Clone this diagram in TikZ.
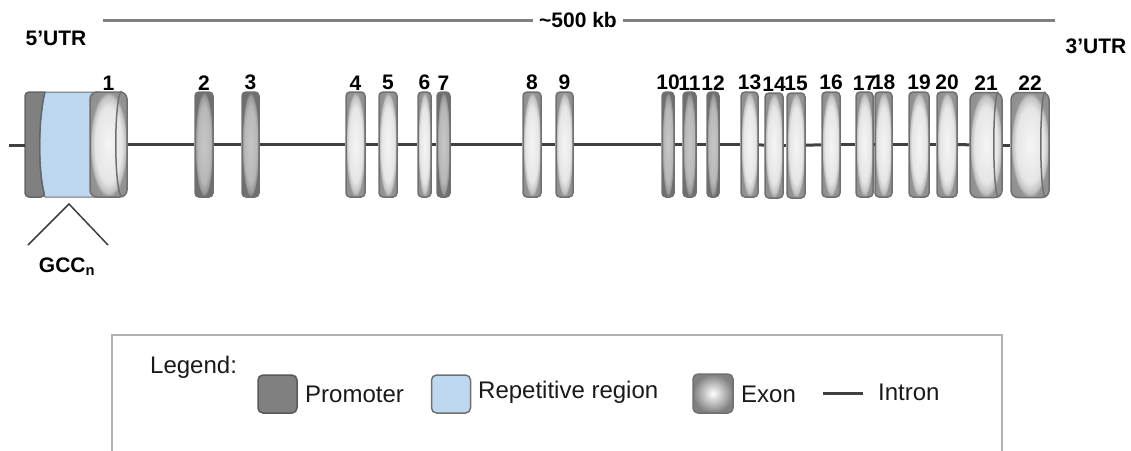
\documentclass[tikz,border=0pt]{standalone}
\usepackage{fontspec}
\setmainfont{Liberation Sans}
\usetikzlibrary{positioning}
\definecolor{repblue}{RGB}{189,215,238}
\definecolor{promgray}{RGB}{128,128,128}
\definecolor{edgegray}{RGB}{112,112,112}
\definecolor{introngray}{RGB}{64,64,64}
\pgfdeclareradialshading{exonlight}{\pgfpoint{0bp}{0bp}}{color(0bp)=(black!4); color(18bp)=(black!10); color(23bp)=(black!24); color(25bp)=(black!42); color(50bp)=(black!50)}
\pgfdeclareradialshading{exondark}{\pgfpoint{0bp}{0bp}}{color(0bp)=(black!22); color(18bp)=(black!28); color(23bp)=(black!40); color(25bp)=(black!56); color(50bp)=(black!60)}
\tikzset{
	exon/.style={rectangle, draw=edgegray, line width=1.5pt, rounded corners=4pt, minimum height=105pt, inner sep=0pt, shading=#1},
	exon/.default=exonlight,
	exonbig/.style={exon, rounded corners=7pt},
	face/.style={draw=edgegray, line width=1.5pt},
	num/.style={font=\fontsize{21}{25}\selectfont\bfseries, inner sep=0pt},
	lbl/.style={font=\fontsize{24}{29}\selectfont, inner sep=0pt, anchor=base west, text=black!90},
	intron/.style={draw=introngray, line width=3pt},
	ruler/.style={draw=black!50, line width=3pt},
	swatch/.style={rectangle, draw=edgegray, line width=1.5pt, rounded corners=5pt, minimum width=39pt, minimum height=38pt}
}

\begin{document}
\begin{tikzpicture}[x=1pt, y=-1pt]
\useasboundingbox (0,0) rectangle (1131,450);

% size of the gene
\coordinate (scaleL) at (103,20);
\coordinate (scaleR) at (1055,20);
\node[num, inner sep=6pt] (kb) at (578,20) {\textasciitilde500 kb};
\draw[ruler] (scaleL) -- (kb) -- (scaleR);

\node[num] (utr5) at (56,38) {5’UTR};
\node[num] (utr3) at (1096,46) {3’UTR};

% promoter and repeat in front of exon 1
\draw[draw=edgegray, fill=repblue, line width=1pt]
	(45,92) .. controls (38,120) and (38,170) .. (45,197) -- (100,197) -- (100,92) -- cycle;
\draw[draw=black!60, fill=promgray, line width=1.5pt, rounded corners=4pt]
	(45,92) -- (25,92) -- (25,197) -- (45,197) .. controls (38,170) and (38,120) .. (45,92);
\coordinate (intronL) at (9,145);
\coordinate (promW) at (25,145);

% exons
\node[exonbig, minimum width=37pt] (e1) at (108.5,144.5) {};
\node[exonbig, minimum width=32pt] (e21) at (986,145) {};
\node[exonbig, minimum width=38pt] (e22) at (1030,145) {};
\foreach \n/\r in {1/6,21/4.5,22/4.5}
	\draw[face] (e\n.north east) ++(-\r,0) arc[start angle=270, end angle=90, x radius=\r, y radius=52.5];
\foreach \n/\x/\y/\w/\k in {2/204/144.5/18/exondark, 3/250.5/144.5/17/exondark,
	4/355.5/144.5/19/exonlight, 5/388/144.5/18/exonlight, 6/424.5/144.5/13/exonlight,
	7/443.5/144.5/13/exondark, 8/532/144.5/18/exonlight, 9/564.5/144.5/17/exonlight,
	10/668/144.5/12/exondark, 11/689.5/144.5/13/exondark, 12/713/144.5/12/exondark,
	13/749.5/144.5/17/exonlight, 14/774/145.5/18/exonlight, 15/796/145.5/18/exonlight,
	16/831/144.5/18/exonlight, 17/864.5/144.5/17/exonlight, 18/883.5/144.5/17/exonlight,
	19/919/144.5/20/exonlight, 20/947/144.5/20/exonlight}
	\node[exon=\k, minimum width=\w pt] (e\n) at (\x,\y) {};
\foreach \n in {1,...,22}
	\node[num, above=1pt of e\n] (n\n) {\n};

% introns
\draw[intron] (intronL) -- (promW);
\foreach \a [count=\b from 2] in {1,...,21}
	\draw[intron] (e\a) -- (e\b);

% repeat expansion
\coordinate (gccL) at (28,245);
\coordinate (gccTop) at (69,204);
\coordinate (gccR) at (108,245);
\draw[draw=introngray, line width=1.5pt] (gccL) -- (gccTop) -- (gccR);
\node[num] (gcc) at (67,267) {GCC\textsubscript{n}};

% legend
\draw[draw=black!30, line width=2pt] (112,452) -- (112,335) -- (1002,335) -- (1002,452);
\node[lbl] (legend) at (150,373) {Legend:};
\node[swatch, fill=promgray, draw=black!65] (promkey) at (277.5,394) {};
\node[lbl] (promtxt) at (305,402) {Promoter};
\node[swatch, fill=repblue] (repkey) at (451,394) {};
\node[lbl] (reptxt) at (478,398) {Repetitive region};
\node[swatch, inner color=white, outer color=black!50, minimum width=40pt, minimum height=39pt] (exonkey) at (713,393.5) {};
\node[lbl] (exontxt) at (741,402) {Exon};
\coordinate (intronkeyL) at (823,393);
\coordinate (intronkeyR) at (863,393);
\draw[intron] (intronkeyL) -- (intronkeyR);
\node[lbl] (introntxt) at (878,400) {Intron};

\end{tikzpicture}
\end{document}
